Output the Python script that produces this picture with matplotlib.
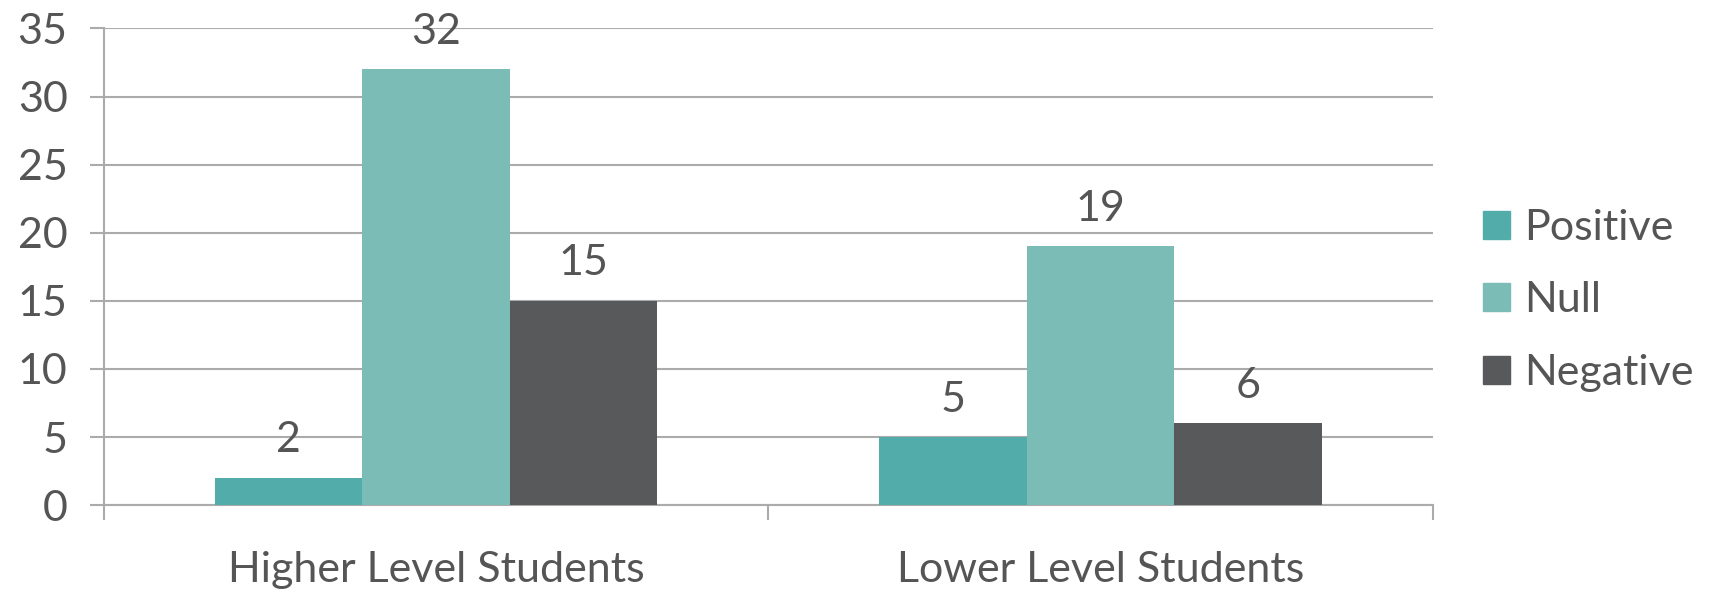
import numpy as np
import matplotlib
matplotlib.use("Agg")
import matplotlib.pyplot as plt
from matplotlib.patches import Patch

categories = ["Higher Level Students", "Lower Level Students"]
series = ["Positive", "Null", "Negative"]
positive = [2, 5]
null = [32, 19]
negative = [15, 6]
colors = ["#52ADAA", "#7BBCB7", "#58595B"]

plt.rcParams['font.family'] = ['Lato', 'DejaVu Sans']
text_col = "#555555"
grid_col = "#ABABAB"
fs = 31

fig = plt.figure(figsize=(17.11, 5.89), dpi=100)
ax = fig.add_axes([0.0606, 0.1423, 0.8373 - 0.0606, 0.9518 - 0.1423])

x = np.arange(len(categories))
w = 0.222
for i, (vals, name) in enumerate(zip([positive, null, negative], series)):
    bars = ax.bar(x + (i - 1) * w, vals, w, color=colors[i], label=name, zorder=3)
    for b, v in zip(bars, vals):
        ax.annotate(str(v), (b.get_x() + b.get_width() / 2, v),
                    xytext=(0, 27), textcoords="offset points",
                    ha="center", va="center", fontsize=fs, color=text_col)

ax.set_xlim(-0.5, 1.5)
ax.set_ylim(0, 35)
ax.set_yticks(range(0, 36, 5))
ax.yaxis.grid(True, color=grid_col, linewidth=1.5, zorder=0)
ax.set_axisbelow(True)

# boundary ticks between groups, labels centred on the groups
ax.set_xticks([-0.5, 0.5, 1.5])
ax.set_xticklabels([])
ax.set_xticks(x, minor=True)
ax.set_xticklabels(categories, minor=True)
ax.tick_params(axis="x", which="minor", length=0, pad=33, labelsize=fs, labelcolor=text_col)
ax.tick_params(axis="x", which="major", direction="out", length=10.5, width=1.5, color=grid_col)
ax.tick_params(axis="y", direction="out", length=10, width=1.5, color=grid_col,
               pad=16, labelsize=fs, labelcolor=text_col)

for s in ["top", "right"]:
    ax.spines[s].set_visible(False)
for s in ["left", "bottom"]:
    ax.spines[s].set_color(grid_col)
    ax.spines[s].set_linewidth(1.5)

handles = [Patch(color=c, label=n) for c, n in zip(colors, series)]
fig.legend(handles=handles, loc="center left", bbox_to_anchor=(0.844, 0.49),
           frameon=False, fontsize=fs, labelcolor=text_col,
           handlelength=0.63, handleheight=0.63, handletextpad=0.32, labelspacing=0.8)

fig.savefig("out.png", dpi=100)
